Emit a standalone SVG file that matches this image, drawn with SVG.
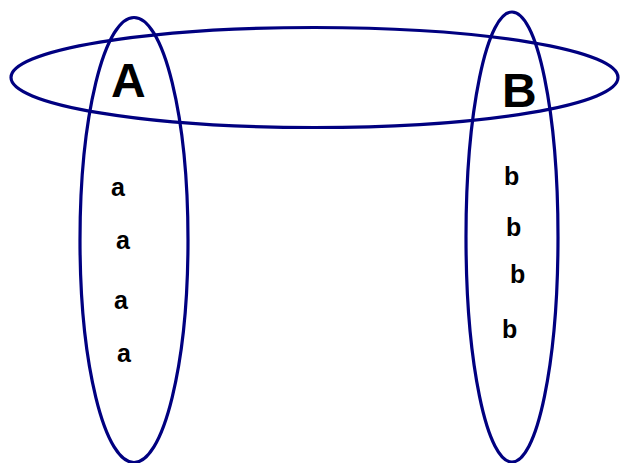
<svg xmlns="http://www.w3.org/2000/svg" width="620" height="463" viewBox="0 0 620 463">
<style>
.set{fill:none;stroke:#000080;stroke-width:3.2}
.big{font-family:"Liberation Sans",Arial,sans-serif;font-weight:bold;font-size:48px;fill:#000}
.el{font-family:"Liberation Sans",Arial,sans-serif;font-weight:bold;font-size:25px;fill:#000}
</style>
<rect width="620" height="463" fill="#fff"/>
<g id="setAB"><ellipse class="set" cx="314.5" cy="77.5" rx="303.5" ry="50"/></g>
<g id="setA"><ellipse class="set" cx="134" cy="240" rx="54" ry="222.5"/>
<text class="big" x="111" y="97">A</text>
<text class="el" x="111" y="196">a</text>
<text class="el" x="116" y="249">a</text>
<text class="el" x="114" y="309">a</text>
<text class="el" x="117" y="362">a</text>
</g>
<g id="setB"><ellipse class="set" cx="512" cy="237" rx="46" ry="225"/>
<text class="big" x="502" y="107">B</text>
<text class="el" x="504" y="185">b</text>
<text class="el" x="506" y="236">b</text>
<text class="el" x="510" y="283">b</text>
<text class="el" x="502" y="338">b</text>
</g>
<g id="connectors"></g>
</svg>
